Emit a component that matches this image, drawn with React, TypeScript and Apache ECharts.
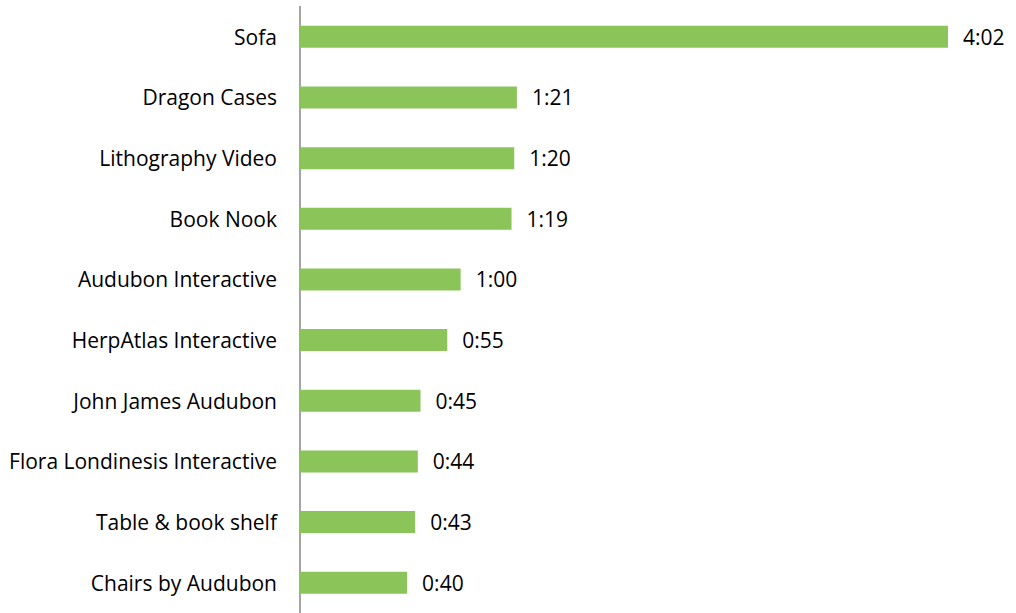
import React, { useEffect, useRef } from "react";
import * as echarts from "echarts";

const categories = [
  "Sofa",
  "Dragon Cases",
  "Lithography Video",
  "Book Nook",
  "Audubon Interactive",
  "HerpAtlas Interactive",
  "John James Audubon",
  "Flora Londinesis Interactive",
  "Table & book shelf",
  "Chairs by Audubon",
];
// durations in seconds
const durations = [242, 81, 80, 79, 60, 55, 45, 44, 43, 40];

const fmt = (s: number) => {
  const m = Math.floor(s / 60);
  const r = s % 60;
  return `${m}:${r < 10 ? "0" + r : r}`;
};

export default function App() {
  const ref = useRef<HTMLDivElement>(null);
  useEffect(() => {
    if (!ref.current) return;
    const chart = echarts.init(ref.current, undefined, { renderer: "svg" });
    const font = "'Open Sans', 'Noto Sans', sans-serif";
    chart.setOption({
      animation: false,
      grid: { left: 300, width: 648, top: 6.5, height: 611 },
      xAxis: {
        type: "value",
        min: 0,
        max: 242,
        show: false,
      },
      yAxis: {
        type: "category",
        inverse: true,
        data: categories,
        axisLine: { show: true, lineStyle: { color: "#868686", width: 1.5 } },
        axisTick: { show: false },
        axisLabel: {
          margin: 23,
          color: "#000",
          fontSize: 21,
          fontFamily: font,
        },
      },
      series: [
        {
          type: "bar",
          data: durations,
          barWidth: 22,
          itemStyle: { color: "#8BC55A" },
          label: {
            show: true,
            position: "right",
            distance: 15,
            color: "#000",
            fontSize: 21,
            fontFamily: font,
            formatter: (p: any) => fmt(p.value),
          },
        },
      ],
    });
    return () => chart.dispose();
  }, []);
  return (
    <div
      ref={ref}
      style={{ position: "fixed", left: 0, top: 0, width: 1016, height: 613, background: "#fff" }}
    />
  );
}
